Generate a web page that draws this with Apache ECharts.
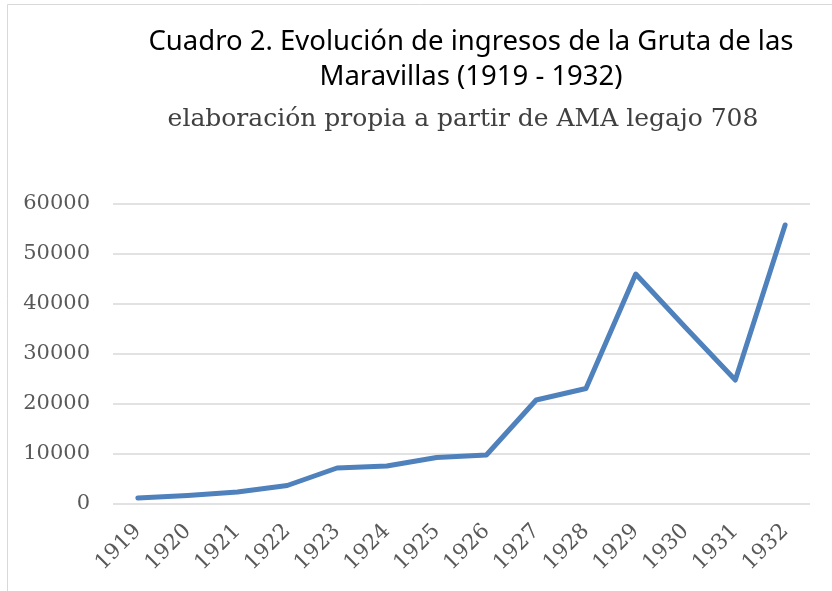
<!DOCTYPE html>
<html>
<head>
<meta charset="utf-8">
<script src="https://cdn.jsdelivr.net/npm/echarts@6/dist/echarts.min.js"></script>
<style>
  html, body { margin: 0; padding: 0; background: #ffffff; }
  #chart { width: 832px; height: 591px; }
</style>
</head>
<body>
<div id="chart"></div>
<script>
// Yearly income of the Gruta de las Maravillas
const years = ['1919', '1920', '1921', '1922', '1923', '1924', '1925', '1926', '1927', '1928', '1929', '1930', '1931', '1932'];
const ingresos = [1200, 1700, 2400, 3700, 7200, 7600, 9300, 9800, 20800, 23100, 46000, 35300, 24800, 55800];
const yTicks = [0, 10000, 20000, 30000, 40000, 50000, 60000];

const titleLine1 = 'Cuadro 2. Evolución de ingresos de la Gruta de las';
const titleLine2 = 'Maravillas (1919 - 1932)';
const subtitle = 'elaboración propia a partir de AMA legajo 708';

const chart = echarts.init(document.getElementById('chart'), null, { renderer: 'canvas' });

const sansTitle = "'Noto Sans', sans-serif";
const serif = "'DejaVu Serif', serif";

chart.setOption({
  backgroundColor: '#ffffff',
  animation: false,
  graphic: [
    {
      type: 'rect',
      shape: { x: 7.5, y: 4.5, width: 900, height: 700 },
      style: { fill: 'none', stroke: '#d9d9d9', lineWidth: 1 },
      silent: true
    },
    {
      type: 'text',
      x: 471, y: 42,
      style: {
        text: titleLine1, fill: '#000000', font: '27.5px ' + sansTitle,
        textAlign: 'center', textVerticalAlign: 'middle'
      }
    },
    {
      type: 'text',
      x: 471, y: 77,
      style: {
        text: titleLine2, fill: '#000000', font: '27.5px ' + sansTitle,
        textAlign: 'center', textVerticalAlign: 'middle'
      }
    },
    {
      type: 'text',
      x: 463, y: 119,
      style: {
        text: subtitle, fill: '#404040', font: '25px ' + serif,
        textAlign: 'center', textVerticalAlign: 'middle'
      }
    }
  ],
  grid: { left: 113, right: 22, top: 204, bottom: 87, containLabel: false },
  xAxis: {
    type: 'category',
    data: years,
    boundaryGap: true,
    axisLine: { show: false },
    axisTick: { show: false },
    axisLabel: {
      rotate: 45, margin: 24, color: '#595959',
      fontFamily: serif, fontSize: 21.5, interval: 0
    }
  },
  yAxis: {
    type: 'value',
    min: yTicks[0], max: yTicks[yTicks.length - 1], interval: 10000,
    axisLine: { show: false },
    axisTick: { show: false },
    axisLabel: {
      color: '#595959', fontFamily: serif, fontSize: 21, margin: 23,
      formatter: (v) => String(v)
    },
    splitLine: { lineStyle: { color: '#d9d9d9', width: 1.5 } }
  },
  series: [{
    type: 'line',
    data: ingresos,
    showSymbol: false,
    lineStyle: { color: '#4f81bd', width: 5, cap: 'round', join: 'round' },
    itemStyle: { color: '#4f81bd' }
  }]
});
</script>
</body>
</html>
